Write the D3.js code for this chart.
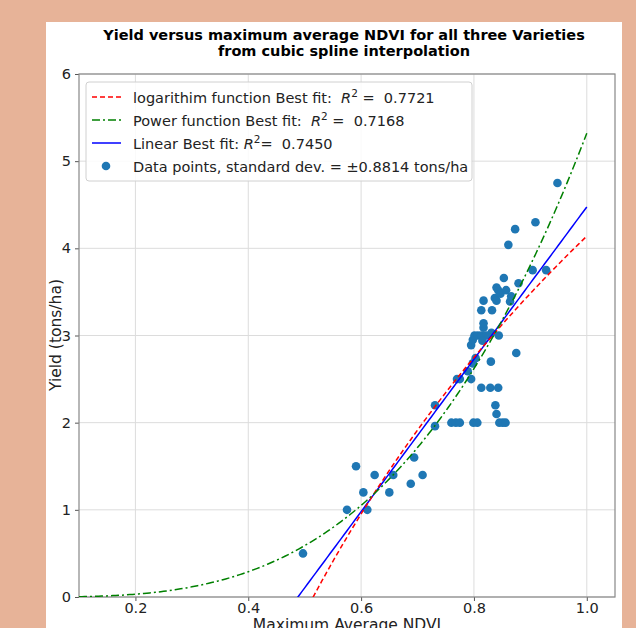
<!DOCTYPE html>
<html><head><meta charset="utf-8">
<script src="https://cdn.jsdelivr.net/npm/d3@7"></script>
<style>
html,body{margin:0;padding:0;background:#e7b398;}
svg{display:block;}
</style></head>
<body>
<svg id="chart" width="636" height="628"></svg>
<script>
// ---- data ----
const ndvi = [0.497,0.575,0.611,0.591,0.604,0.624,0.650,0.657,0.688,0.694,0.709,0.731,0.731,
  0.760,0.768,0.775,0.799,0.806,0.845,0.851,0.856,0.840,0.838,0.813,0.829,0.843,
  0.770,0.775,0.795,0.789,0.798,0.803,0.830,0.875,0.795,0.798,0.801,0.807,0.813,0.822,
  0.831,0.844,0.815,0.817,0.817,0.813,0.832,0.817,0.837,0.840,0.866,0.864,0.840,0.843,
  0.847,0.857,0.853,0.879,0.904,0.928,0.861,0.873,0.909,0.948];
const yieldVals = [0.50,1.00,1.00,1.50,1.20,1.40,1.20,1.40,1.30,1.60,1.40,2.20,1.96,
  2.00,2.00,2.00,2.00,2.00,2.00,2.00,2.00,2.10,2.20,2.40,2.40,2.40,
  2.50,2.50,2.50,2.59,2.68,2.74,2.70,2.80,2.89,2.95,3.00,3.00,3.00,3.00,
  3.03,3.00,2.94,3.09,3.14,3.29,3.29,3.40,3.43,3.40,3.45,3.39,3.55,3.52,
  3.48,3.52,3.66,3.60,3.75,3.75,4.04,4.22,4.30,4.75];
const xTicks = [0.2,0.4,0.6,0.8,1.0];
const yTicks = [0,1,2,3,4,5,6];
const logFit = {a:4.14, b:6.24};     // y = a + b ln x
const powFit = {a:5.32, b:3.175};    // y = a x^b
const linFit = {m:8.74, c:-4.265};   // y = m x + c
const fitX = d3.range(0.1, 1.0001, 0.005);
const titleLines = ["Yield versus maximum average NDVI for all three Varieties","from cubic spline interpolation"];
const legendItems = [
  {type:"dash", color:"red", pre:"logarithim function Best fit:  ", post:" =  0.7721"},
  {type:"dashdot", color:"green", pre:"Power function Best fit:  ", post:" =  0.7168"},
  {type:"solid", color:"blue", pre:"Linear Best fit: ", post:"=  0.7450"},
  {type:"dot", color:"#1f77b4", text:"Data points, standard dev. = \u00b10.8814 tons/ha"}
];

// ---- layout ----
const svg = d3.select("#chart");
const L=79, R=615, T=74, B=597;
const font = "DejaVu Sans, sans-serif";
svg.append("rect").attr("x",46).attr("y",22).attr("width",576).attr("height",620).attr("fill","#fff");

const x = d3.scaleLinear().domain([0.1,1.05]).range([L,R]);
const y = d3.scaleLinear().domain([0,6]).range([B,T]);

svg.append("defs").append("clipPath").attr("id","clip")
  .append("rect").attr("x",L).attr("y",T).attr("width",R-L).attr("height",B-T);

// grid
const g = svg.append("g");
g.selectAll(".vg").data(xTicks).join("line").attr("x1",d=>x(d)).attr("x2",d=>x(d))
  .attr("y1",T).attr("y2",B).attr("stroke","#dcdcdc").attr("stroke-width",1);
g.selectAll(".hg").data(yTicks).join("line").attr("y1",d=>y(d)).attr("y2",d=>y(d))
  .attr("x1",L).attr("x2",R).attr("stroke","#dcdcdc").attr("stroke-width",1);

// axes
const xAxis = svg.append("g").attr("transform",`translate(0,${B})`)
  .call(d3.axisBottom(x).tickValues(xTicks).tickFormat(d3.format(".1f")).tickSize(4).tickPadding(2));
const yAxis = svg.append("g").attr("transform",`translate(${L},0)`)
  .call(d3.axisLeft(y).tickValues(yTicks).tickFormat(d3.format("d")).tickSize(4).tickPadding(4));
[xAxis,yAxis].forEach(a=>{
  a.select(".domain").remove();
  a.selectAll("text").attr("font-family",font).attr("font-size",14.5).attr("fill","#222");
  a.selectAll("line").attr("stroke","#555");
});
svg.append("rect").attr("x",L).attr("y",T).attr("width",R-L).attr("height",B-T)
  .attr("fill","none").attr("stroke","#888").attr("stroke-width",1.2);

// fits
const plot = svg.append("g").attr("clip-path","url(#clip)");
const line = d3.line().x(d=>x(d[0])).y(d=>y(d[1]));
const logPts = fitX.map(v=>[v, logFit.a + logFit.b*Math.log(v)]).filter(d=>d[1]>=-0.3);
const powPts = fitX.map(v=>[v, powFit.a*Math.pow(v,powFit.b)]);
const linPts = fitX.map(v=>[v, linFit.m*v+linFit.c]).filter(d=>d[1]>=-0.3);

// scatter
plot.selectAll("circle").data(ndvi.map((v,i)=>[v,yieldVals[i]])).join("circle")
  .attr("cx",d=>x(d[0])).attr("cy",d=>y(d[1])).attr("r",4.3).attr("fill","#1f77b4");

plot.append("path").attr("d",line(linPts)).attr("fill","none").attr("stroke","blue").attr("stroke-width",1.5);
plot.append("path").attr("d",line(logPts)).attr("fill","none").attr("stroke","red").attr("stroke-width",1.5).attr("stroke-dasharray","5,3");
plot.append("path").attr("d",line(powPts)).attr("fill","none").attr("stroke","green").attr("stroke-width",1.5).attr("stroke-dasharray","8,3,2,3");

// title
svg.append("g").selectAll("text").data(titleLines).join("text")
  .attr("x",344).attr("y",(d,i)=>40+i*16).attr("text-anchor","middle")
  .attr("font-family",font).attr("font-weight","bold").attr("font-size",14.5).attr("fill","#000").text(d=>d);

// axis labels
svg.append("text").attr("x",347).attr("y",630).attr("text-anchor","middle")
  .attr("font-family",font).attr("font-size",15.5).attr("fill","#222").text("Maximum Average NDVI");
svg.append("text").attr("transform","translate(61,335) rotate(-90)").attr("text-anchor","middle")
  .attr("font-family",font).attr("font-size",15.5).attr("fill","#222").text("Yield (tons/ha)");

// legend
const lg = svg.append("g");
lg.append("rect").attr("x",86).attr("y",82).attr("width",386).attr("height",99).attr("rx",3)
  .attr("fill","#fff").attr("fill-opacity",0.85).attr("stroke","#d0d0d0");
legendItems.forEach((it,i)=>{
  const cy = 97 + i*23;
  if(it.type==="dot"){
    lg.append("circle").attr("cx",106).attr("cy",cy).attr("r",4.3).attr("fill",it.color);
  } else {
    const ln = lg.append("line").attr("x1",92).attr("x2",121).attr("y1",cy).attr("y2",cy)
      .attr("stroke",it.color).attr("stroke-width",1.5);
    if(it.type==="dash") ln.attr("stroke-dasharray","5,3");
    if(it.type==="dashdot") ln.attr("stroke-dasharray","8,3,2,3");
  }
  const t = lg.append("text").attr("x",133).attr("y",cy+5.5).attr("font-family",font)
    .attr("font-size",14.5).attr("fill","#222");
  if(it.text){ t.text(it.text); }
  else {
    t.append("tspan").text(it.pre).style("white-space","pre");
    t.append("tspan").text("R").attr("font-style","italic");
    t.append("tspan").text("2").attr("font-size",10.5).attr("dy",-6);
    t.append("tspan").text(it.post).attr("dy",6).style("white-space","pre");
  }
});
</script>
</body></html>
